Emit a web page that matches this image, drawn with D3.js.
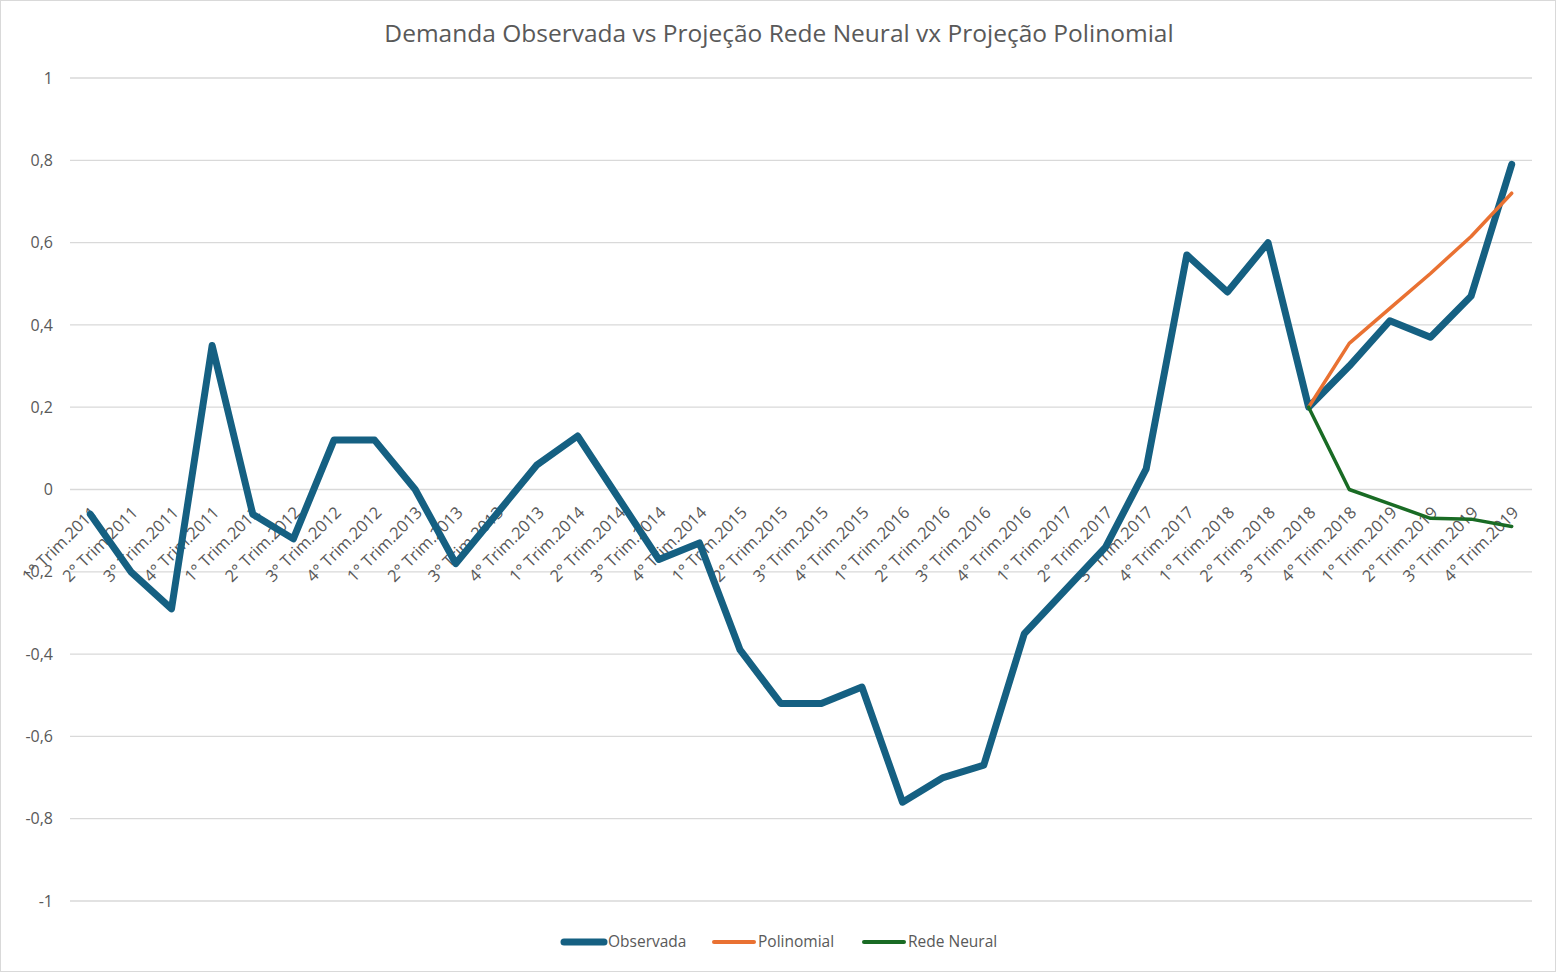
<!DOCTYPE html>
<html>
<head>
<meta charset="utf-8">
<script src="https://cdn.jsdelivr.net/npm/d3@7"></script>
<style>
  body { margin: 0; background: #fff; }
  text { font-family: "Open Sans", "Liberation Sans", sans-serif; fill: #595959; }
</style>
</head>
<body>
<div id="chart"></div>
<script>
// categories
const years = ['2011', '2012', '2013', '2014', '2015', '2016', '2017', '2018', '2019'];
const quarters = ['1°', '2°', '3°', '4°'];
const categories = [];
years.forEach(y => quarters.forEach(q => categories.push(q + ' Trim.' + y)));

// series
const observada = [-0.06, -0.20, -0.29, 0.35, -0.06, -0.12, 0.12, 0.12, 0.00, -0.18,
    -0.06, 0.06, 0.13, -0.02, -0.17, -0.13, -0.39, -0.52, -0.52, -0.48,
    -0.76, -0.70, -0.67, -0.35, -0.245, -0.14, 0.05, 0.57, 0.48, 0.60,
    0.20, 0.30, 0.41, 0.37, 0.47, 0.79];
const polinomial = [0.20, 0.355, 0.44, 0.525, 0.615, 0.72];   // from 3° Trim.2018
const redeNeural = [0.20, 0.00, -0.035, -0.07, -0.072, -0.09]; // from 3° Trim.2018
const projStart = 30;

const yTicks = [-1, -0.8, -0.6, -0.4, -0.2, 0, 0.2, 0.4, 0.6, 0.8, 1];

const W = 1557, H = 973;
const margin = { top: 78, right: 25, bottom: 72, left: 70 };

const svg = d3.select('#chart').append('svg')
    .attr('width', W).attr('height', H);

svg.append('rect')
    .attr('x', 0.5).attr('y', 0.5)
    .attr('width', W - 2).attr('height', H - 2)
    .attr('fill', '#fff').attr('stroke', '#d9d9d9');

const x = d3.scaleBand().domain(categories)
    .range([margin.left, W - margin.right]);
const y = d3.scaleLinear().domain([-1, 1])
    .range([H - margin.bottom, margin.top]);
const cx = c => x(c) + x.bandwidth() / 2;

// title
svg.append('text')
    .attr('x', 779).attr('y', 42)
    .attr('text-anchor', 'middle')
    .style('font-size', '24.5px')
    .text('Demanda Observada vs Projeção Rede Neural vx Projeção Polinomial');

// gridlines + y labels
svg.append('g').selectAll('line').data(yTicks).enter().append('line')
    .attr('x1', margin.left).attr('x2', W - margin.right)
    .attr('y1', d => y(d)).attr('y2', d => y(d))
    .attr('stroke', '#d9d9d9').attr('stroke-width', 1.3);

svg.append('g').selectAll('text').data(yTicks).enter().append('text')
    .attr('x', 53).attr('y', d => y(d))
    .attr('dy', '0.35em')
    .attr('text-anchor', 'end')
    .style('font-size', '16px')
    .text(d => d3.format('.1~f')(d).replace('.', ',').replace('−', '-'));

// category labels, rotated, sitting under the zero line
svg.append('g').selectAll('text').data(categories).enter().append('text')
    .attr('transform', d => `translate(${cx(d) + 4},${y(0) + 20}) rotate(-45)`)
    .attr('text-anchor', 'end')
    .attr('dy', '0.35em')
    .style('font-size', '16.5px')
    .text(d => d);

const line = d3.line()
    .x(d => cx(d.c))
    .y(d => y(d.v));

const obsData = observada.map((v, i) => ({ c: categories[i], v }));
const polData = polinomial.map((v, i) => ({ c: categories[projStart + i], v }));
const nnData = redeNeural.map((v, i) => ({ c: categories[projStart + i], v }));

svg.append('path').datum(obsData)
    .attr('d', line).attr('fill', 'none')
    .attr('stroke', '#156082').attr('stroke-width', 7)
    .attr('stroke-linejoin', 'round').attr('stroke-linecap', 'round');

svg.append('path').datum(polData)
    .attr('d', line).attr('fill', 'none')
    .attr('stroke', '#E97132').attr('stroke-width', 3.5)
    .attr('stroke-linejoin', 'round').attr('stroke-linecap', 'round');

svg.append('path').datum(nnData)
    .attr('d', line).attr('fill', 'none')
    .attr('stroke', '#196B24').attr('stroke-width', 3.5)
    .attr('stroke-linejoin', 'round').attr('stroke-linecap', 'round');

// legend
const legend = [
    { name: 'Observada', color: '#156082', w: 7, x: 564 },
    { name: 'Polinomial', color: '#E97132', w: 4, x: 714 },
    { name: 'Rede Neural', color: '#196B24', w: 4, x: 864 }
];
const lg = svg.append('g').selectAll('g').data(legend).enter().append('g')
    .attr('transform', d => `translate(${d.x},942)`);
lg.append('line')
    .attr('x1', 0).attr('x2', 40)
    .attr('stroke', d => d.color).attr('stroke-width', d => d.w)
    .attr('stroke-linecap', 'round');
lg.append('text')
    .attr('x', 44).attr('dy', '0.35em')
    .style('font-size', '15.5px')
    .text(d => d.name);
</script>
</body>
</html>
